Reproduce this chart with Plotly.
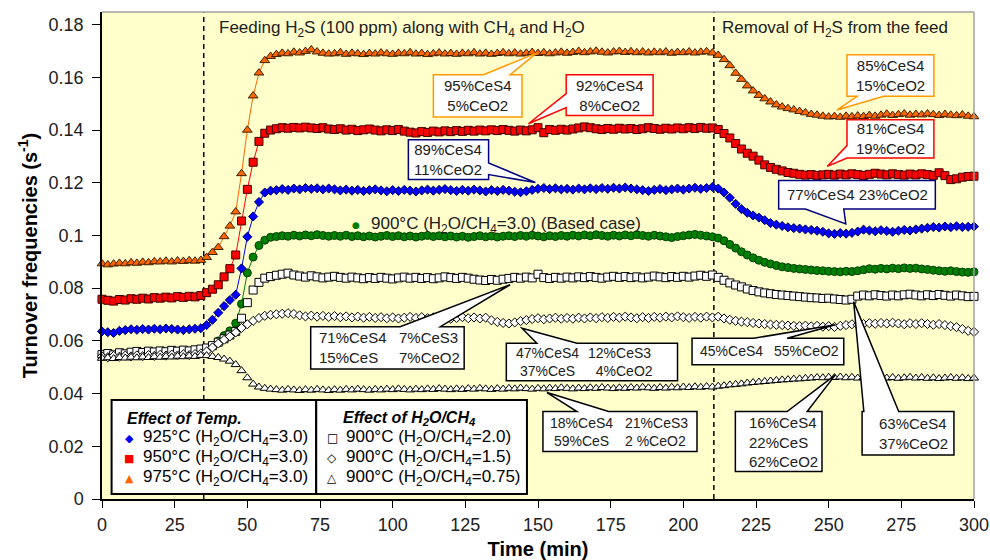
import plotly.graph_objects as go

# ---------------- data ----------------
TIME_MIN = list(range(0, 301, 2))

T975_H3 = [
    0.0893, 0.0889, 0.0892, 0.0895, 0.0893, 0.0897, 0.0895, 0.0899, 0.0897, 0.0901,
    0.0900, 0.0903, 0.0900, 0.0904, 0.0902, 0.0905, 0.0903, 0.0906, 0.0917, 0.0936,
    0.0955, 0.0996, 0.1036, 0.1090, 0.1235, 0.1400, 0.1530, 0.1617, 0.1664, 0.1680,
    0.1687, 0.1692, 0.1690, 0.1696, 0.1693, 0.1699, 0.1705, 0.1697, 0.1692, 0.1689,
    0.1690, 0.1694, 0.1688, 0.1692, 0.1690, 0.1687, 0.1691, 0.1689, 0.1693, 0.1690,
    0.1688, 0.1692, 0.1690, 0.1694, 0.1689, 0.1691, 0.1687, 0.1690, 0.1693, 0.1689,
    0.1691, 0.1688, 0.1692, 0.1690, 0.1694, 0.1689, 0.1692, 0.1688, 0.1691, 0.1694,
    0.1690, 0.1693, 0.1689, 0.1692, 0.1695, 0.1691, 0.1694, 0.1690, 0.1693, 0.1696,
    0.1692, 0.1695, 0.1699, 0.1694, 0.1697, 0.1700, 0.1696, 0.1693, 0.1697, 0.1699,
    0.1695, 0.1698, 0.1694, 0.1697, 0.1693, 0.1696, 0.1694, 0.1697, 0.1692, 0.1695,
    0.1694, 0.1697, 0.1693, 0.1696, 0.1698, 0.1693, 0.1684, 0.1668, 0.1645, 0.1616,
    0.1593, 0.1568, 0.1549, 0.1532, 0.1519, 0.1507, 0.1496, 0.1488, 0.1482, 0.1477,
    0.1471, 0.1466, 0.1460, 0.1457, 0.1453, 0.1450, 0.1452, 0.1449, 0.1453, 0.1451,
    0.1454, 0.1452, 0.1456, 0.1453, 0.1457, 0.1461, 0.1456, 0.1459, 0.1462, 0.1457,
    0.1460, 0.1458, 0.1462, 0.1459, 0.1456, 0.1460, 0.1457, 0.1455, 0.1458, 0.1453,
    0.1451,
]

T950_H3 = [
    0.0758, 0.0754, 0.0751, 0.0757, 0.0755, 0.0760, 0.0758, 0.0762, 0.0759, 0.0764,
    0.0762, 0.0766, 0.0763, 0.0768, 0.0765, 0.0769, 0.0767, 0.0772, 0.0783, 0.0796,
    0.0813, 0.0843, 0.0874, 0.0926, 0.1055, 0.1175, 0.1278, 0.1357, 0.1388, 0.1400,
    0.1405, 0.1409, 0.1407, 0.1410, 0.1408, 0.1411, 0.1408, 0.1406, 0.1409, 0.1404,
    0.1402, 0.1405, 0.1400, 0.1403, 0.1398, 0.1401, 0.1404, 0.1400, 0.1397, 0.1401,
    0.1398, 0.1402, 0.1396, 0.1392, 0.1389, 0.1394, 0.1391, 0.1396, 0.1393, 0.1397,
    0.1394, 0.1398, 0.1395, 0.1399, 0.1396, 0.1400, 0.1397, 0.1401, 0.1398, 0.1402,
    0.1399, 0.1396, 0.1400, 0.1397, 0.1401, 0.1409, 0.1390, 0.1402, 0.1399, 0.1403,
    0.1400, 0.1404, 0.1408, 0.1412, 0.1409, 0.1405, 0.1402, 0.1406, 0.1403, 0.1407,
    0.1404, 0.1406, 0.1402, 0.1405, 0.1409, 0.1406, 0.1403, 0.1407, 0.1404, 0.1408,
    0.1405, 0.1409, 0.1406, 0.1410, 0.1407, 0.1408, 0.1402, 0.1387, 0.1370, 0.1349,
    0.1328, 0.1312, 0.1301, 0.1286, 0.1268, 0.1258, 0.1251, 0.1245, 0.1239, 0.1236,
    0.1232, 0.1229, 0.1231, 0.1228, 0.1230, 0.1232, 0.1229, 0.1233, 0.1230, 0.1234,
    0.1231, 0.1228, 0.1232, 0.1236, 0.1233, 0.1230, 0.1234, 0.1231, 0.1229, 0.1233,
    0.1230, 0.1234, 0.1231, 0.1228, 0.1238, 0.1227, 0.1212, 0.1215, 0.1221, 0.1224,
    0.1225,
]

T925_H3 = [
    0.0636, 0.0633, 0.0630, 0.0638, 0.0641, 0.0644, 0.0642, 0.0645, 0.0643, 0.0646,
    0.0644, 0.0647, 0.0645, 0.0643, 0.0641, 0.0644, 0.0646, 0.0648, 0.0660, 0.0680,
    0.0707, 0.0732, 0.0755, 0.0775, 0.0875, 0.0995, 0.1072, 0.1127, 0.1163, 0.1170,
    0.1172, 0.1176, 0.1173, 0.1178, 0.1175, 0.1180, 0.1177, 0.1179, 0.1175, 0.1178,
    0.1175, 0.1171, 0.1174, 0.1170, 0.1173, 0.1169, 0.1172, 0.1175, 0.1171, 0.1168,
    0.1172, 0.1169, 0.1173, 0.1170, 0.1167, 0.1171, 0.1174, 0.1170, 0.1173, 0.1176,
    0.1172, 0.1169, 0.1173, 0.1170, 0.1174, 0.1171, 0.1167, 0.1172, 0.1169, 0.1173,
    0.1170, 0.1166, 0.1164, 0.1168, 0.1173, 0.1177, 0.1180, 0.1176, 0.1179, 0.1175,
    0.1177, 0.1174, 0.1178, 0.1175, 0.1179, 0.1176, 0.1180, 0.1177, 0.1181, 0.1178,
    0.1182, 0.1178, 0.1175, 0.1172, 0.1169, 0.1173, 0.1176, 0.1172, 0.1175, 0.1178,
    0.1174, 0.1178, 0.1181, 0.1177, 0.1180, 0.1184, 0.1178, 0.1163, 0.1143, 0.1120,
    0.1100, 0.1086, 0.1076, 0.1068, 0.1058, 0.1047, 0.1041, 0.1036, 0.1031, 0.1028,
    0.1026, 0.1023, 0.1021, 0.1018, 0.1014, 0.1008, 0.1006, 0.1009, 0.1007, 0.1010,
    0.1015, 0.1022, 0.1019, 0.1016, 0.1020, 0.1017, 0.1014, 0.1018, 0.1021, 0.1019,
    0.1023, 0.1026, 0.1029, 0.1032, 0.1030, 0.1034, 0.1031, 0.1035, 0.1032, 0.1033,
    0.1034,
]

T900_H3 = [
    None, None, None, None, None, None, None, None, None, None,
    None, None, None, None, None, None, None, None, None, None,
    0.0600, 0.0620, 0.0638, 0.0667, 0.0740, 0.0858, 0.0918, 0.0962, 0.0982, 0.0993,
    0.0996, 0.0999, 0.0997, 0.1001, 0.0998, 0.1002, 0.0999, 0.1003, 0.1000, 0.0997,
    0.1000, 0.0997, 0.1001, 0.0996, 0.0999, 0.0995, 0.0998, 0.0994, 0.0997, 0.1000,
    0.0996, 0.0999, 0.0995, 0.0998, 0.0994, 0.0997, 0.1000, 0.0996, 0.0999, 0.0995,
    0.0998, 0.0994, 0.0997, 0.0993, 0.0996, 0.0999, 0.0995, 0.0998, 0.0994, 0.0997,
    0.0999, 0.0996, 0.1000, 0.0997, 0.1001, 0.0998, 0.0995, 0.0999, 0.0996, 0.1000,
    0.0997, 0.1001, 0.0998, 0.1002, 0.0999, 0.1003, 0.1000, 0.0997, 0.1001, 0.0998,
    0.1002, 0.0999, 0.1003, 0.1000, 0.0997, 0.1001, 0.0998, 0.0995, 0.0992, 0.0996,
    0.0999, 0.1002, 0.1004, 0.1001, 0.0998, 0.0995, 0.0990, 0.0980, 0.0966, 0.0952,
    0.0938, 0.0926, 0.0915, 0.0906, 0.0898, 0.0892, 0.0886, 0.0881, 0.0878, 0.0875,
    0.0873, 0.0871, 0.0869, 0.0867, 0.0866, 0.0864, 0.0863, 0.0862, 0.0864, 0.0863,
    0.0866, 0.0870, 0.0874, 0.0872, 0.0875, 0.0873, 0.0876, 0.0874, 0.0877, 0.0875,
    0.0876, 0.0873, 0.0871, 0.0868, 0.0866, 0.0864, 0.0866, 0.0863, 0.0861, 0.0860,
    0.0862,
]

T900_H2 = [
    0.0548, 0.0552, 0.0547, 0.0555, 0.0551, 0.0557, 0.0560, 0.0556, 0.0561, 0.0558,
    0.0562, 0.0559, 0.0564, 0.0561, 0.0565, 0.0562, 0.0566, 0.0569, 0.0573, 0.0582,
    0.0595, 0.0608, 0.0622, 0.0636, 0.0686, 0.0745, 0.0793, 0.0822, 0.0838, 0.0844,
    0.0849, 0.0853, 0.0857, 0.0850, 0.0846, 0.0842, 0.0847, 0.0843, 0.0839, 0.0842,
    0.0845, 0.0841, 0.0838, 0.0842, 0.0839, 0.0836, 0.0840, 0.0837, 0.0841, 0.0838,
    0.0835, 0.0839, 0.0842, 0.0838, 0.0841, 0.0837, 0.0840, 0.0836, 0.0839, 0.0843,
    0.0840, 0.0837, 0.0841, 0.0838, 0.0834, 0.0831, 0.0829, 0.0833, 0.0830, 0.0834,
    0.0837, 0.0841, 0.0838, 0.0842, 0.0839, 0.0853, 0.0840, 0.0837, 0.0841, 0.0838,
    0.0842, 0.0839, 0.0843, 0.0840, 0.0844, 0.0841, 0.0838, 0.0842, 0.0845, 0.0841,
    0.0844, 0.0840, 0.0843, 0.0839, 0.0842, 0.0846, 0.0843, 0.0840, 0.0844, 0.0841,
    0.0845, 0.0842, 0.0846, 0.0849, 0.0845, 0.0850, 0.0841, 0.0830, 0.0820, 0.0812,
    0.0805, 0.0797, 0.0791, 0.0786, 0.0782, 0.0779, 0.0776, 0.0774, 0.0772, 0.0770,
    0.0768, 0.0766, 0.0764, 0.0763, 0.0761, 0.0762, 0.0759, 0.0757, 0.0755, 0.0758,
    0.0770, 0.0774, 0.0771, 0.0775, 0.0772, 0.0770, 0.0774, 0.0771, 0.0775, 0.0777,
    0.0774, 0.0771, 0.0775, 0.0772, 0.0776, 0.0773, 0.0770, 0.0774, 0.0771, 0.0768,
    0.0769,
]

T900_H15 = [
    0.0541, 0.0538, 0.0543, 0.0540, 0.0544, 0.0541, 0.0545, 0.0542, 0.0546, 0.0543,
    0.0547, 0.0544, 0.0548, 0.0545, 0.0549, 0.0546, 0.0550, 0.0552, 0.0560, 0.0575,
    0.0590, 0.0604, 0.0617, 0.0632, 0.0649, 0.0663, 0.0676, 0.0687, 0.0695, 0.0699,
    0.0701, 0.0703, 0.0705, 0.0702, 0.0697, 0.0693, 0.0696, 0.0692, 0.0695, 0.0691,
    0.0694, 0.0690, 0.0693, 0.0689, 0.0692, 0.0688, 0.0691, 0.0687, 0.0690, 0.0686,
    0.0689, 0.0685, 0.0688, 0.0691, 0.0687, 0.0690, 0.0686, 0.0689, 0.0685, 0.0688,
    0.0684, 0.0687, 0.0690, 0.0686, 0.0689, 0.0685, 0.0688, 0.0678, 0.0672, 0.0668,
    0.0666, 0.0670, 0.0675, 0.0679, 0.0683, 0.0686, 0.0682, 0.0685, 0.0688, 0.0684,
    0.0687, 0.0684, 0.0688, 0.0685, 0.0689, 0.0686, 0.0690, 0.0687, 0.0691, 0.0688,
    0.0692, 0.0689, 0.0686, 0.0690, 0.0687, 0.0691, 0.0688, 0.0692, 0.0689, 0.0693,
    0.0690, 0.0687, 0.0691, 0.0688, 0.0692, 0.0689, 0.0692, 0.0685, 0.0680, 0.0676,
    0.0673, 0.0671, 0.0668, 0.0666, 0.0664, 0.0662, 0.0661, 0.0660, 0.0658, 0.0657,
    0.0656, 0.0658, 0.0655, 0.0657, 0.0654, 0.0656, 0.0653, 0.0657, 0.0660, 0.0663,
    0.0661, 0.0664, 0.0667, 0.0665, 0.0668, 0.0666, 0.0669, 0.0666, 0.0663, 0.0667,
    0.0664, 0.0667, 0.0664, 0.0661, 0.0664, 0.0660, 0.0656, 0.0652, 0.0645, 0.0638,
    0.0634,
]

T900_H075 = [
    0.0534, 0.0536, 0.0533, 0.0537, 0.0535, 0.0538, 0.0536, 0.0539, 0.0537, 0.0540,
    0.0538, 0.0541, 0.0539, 0.0542, 0.0540, 0.0543, 0.0541, 0.0545, 0.0544, 0.0541,
    0.0537, 0.0531, 0.0523, 0.0510, 0.0487, 0.0460, 0.0436, 0.0425, 0.0420, 0.0417,
    0.0415, 0.0413, 0.0416, 0.0414, 0.0412, 0.0415, 0.0413, 0.0416, 0.0414, 0.0412,
    0.0415, 0.0413, 0.0416, 0.0414, 0.0417, 0.0415, 0.0413, 0.0416, 0.0414, 0.0417,
    0.0415, 0.0418, 0.0416, 0.0414, 0.0417, 0.0415, 0.0418, 0.0416, 0.0419, 0.0417,
    0.0415, 0.0418, 0.0416, 0.0419, 0.0417, 0.0420, 0.0418, 0.0416, 0.0419, 0.0417,
    0.0420, 0.0418, 0.0421, 0.0419, 0.0417, 0.0420, 0.0418, 0.0421, 0.0419, 0.0422,
    0.0420, 0.0418, 0.0421, 0.0419, 0.0422, 0.0420, 0.0423, 0.0421, 0.0419, 0.0422,
    0.0420, 0.0423, 0.0421, 0.0424, 0.0422, 0.0420, 0.0423, 0.0421, 0.0424, 0.0422,
    0.0425, 0.0423, 0.0426, 0.0424, 0.0427, 0.0425, 0.0428, 0.0430, 0.0433, 0.0435,
    0.0437, 0.0440, 0.0442, 0.0444, 0.0446, 0.0448, 0.0450, 0.0452, 0.0453, 0.0455,
    0.0456, 0.0458, 0.0459, 0.0461, 0.0460, 0.0462, 0.0461, 0.0463, 0.0460, 0.0462,
    0.0459, 0.0461, 0.0458, 0.0460, 0.0462, 0.0459, 0.0461, 0.0458, 0.0460, 0.0462,
    0.0459, 0.0461, 0.0458, 0.0460, 0.0457, 0.0459, 0.0461, 0.0458, 0.0460, 0.0457,
    0.0459,
]

X_TICKS = [0, 25, 50, 75, 100, 125, 150, 175, 200, 225, 250, 275, 300]
Y_TICKS = [0, 0.02, 0.04, 0.06, 0.08, 0.1, 0.12, 0.14, 0.16, 0.18]
Y_TICK_TEXT = ["0", "0.02", "0.04", "0.06", "0.08", "0.1", "0.12", "0.14", "0.16", "0.18"]
EVENT_TIMES = [35, 210.5]

FONT = "Liberation Sans, Arial, sans-serif"

fig = go.Figure()

def add_series(y, symbol, size, fill, edge, line_color=None):
    fig.add_trace(go.Scatter(
        x=TIME_MIN, y=y,
        mode="lines+markers" if line_color else "markers",
        line=dict(color=line_color or fill, width=1),
        marker=dict(symbol=symbol, size=size, color=fill,
                    line=dict(color=edge, width=1)),
        cliponaxis=False, showlegend=False, connectgaps=False,
    ))

add_series(T900_H3, "circle", 8, "#008000", "#004000", "#008000")
add_series(T900_H2, "square", 8, "#FFFFFF", "#000000")
add_series(T900_H15, "diamond", 7, "#FFFFFF", "#000000")
add_series(T900_H075, "triangle-up", 8, "#FFFFFF", "#000000")
add_series(T925_H3, "diamond", 7, "#0000FF", "#000060", "#0000FF")
add_series(T950_H3, "square", 8, "#FF0000", "#400000", "#FF0000")
add_series(T975_H3, "triangle-up", 8.5, "#FF6600", "#402000", "#FF6600")

shapes = []
annotations = []

# dashed event lines
for t in EVENT_TIMES:
    shapes.append(dict(type="line", xref="x", yref="y domain", x0=t, x1=t, y0=0, y1=1,
                       line=dict(color="black", width=1.5, dash="5px,4px"), layer="below"))

# grey top/right frame
shapes.append(dict(type="line", xref="paper", yref="paper", x0=0, x1=1, y0=1, y1=1,
                   line=dict(color="#A0A0A0", width=1.5)))
shapes.append(dict(type="line", xref="paper", yref="paper", x0=1, x1=1, y0=0, y1=1,
                   line=dict(color="#A0A0A0", width=1.5)))


def callout_path(x0, x1, y0, y1, edge, a, b, tip):
    tx, ty = tip
    if edge == "top":
        pts = [(x0, y1), (a, y1), (tx, ty), (b, y1), (x1, y1), (x1, y0), (x0, y0)]
    elif edge == "right":
        pts = [(x0, y1), (x1, y1), (x1, a), (tx, ty), (x1, b), (x1, y0), (x0, y0)]
    elif edge == "bottom":
        pts = [(x0, y1), (x1, y1), (x1, y0), (a, y0), (tx, ty), (b, y0), (x0, y0)]
    else:  # left
        pts = [(x0, y1), (x1, y1), (x1, y0), (x0, y0), (x0, a), (tx, ty), (x0, b)]
    return "M " + " L ".join(f"{x},{y}" for x, y in pts) + " Z"


CALLOUTS = [
    (114.0, 144.5, 0.1450, 0.1610, "top", 131.3, 140.4, (149.6, 0.1693), "#FF9900"),
    (159.7, 189.6, 0.1455, 0.1610, "left", 0.1485, 0.1538, (146.7, 0.1424), "#FF0000"),
    (105.4, 133.0, 0.1212, 0.1363, "right", 0.1275, 0.1231, (149.1, 0.1201), "#000080"),
    (256.3, 286.2, 0.1528, 0.1686, "bottom", 268.9, 259.8, (252.8, 0.1476), "#FF9900"),
    (256.3, 286.2, 0.1294, 0.1439, "left", 0.1294, 0.1341, (249.5, 0.1262), "#FF0000"),
    (232.8, 286.7, 0.1100, 0.1209, "bottom", 255.2, 242.0, (255.9, 0.1044), "#000080"),
    (71.8, 124.6, 0.0493, 0.0654, "top", 102.6, 116.4, (140.4, 0.0813), "#000000"),
    (139.1, 198.0, 0.0449, 0.0591, "top", 149.6, 163.4, (144.5, 0.0648), "#000000"),
    (203.0, 255.2, 0.0509, 0.0610, "top", 224.2, 235.7, (252.3, 0.0661), "#000000"),
    (151.7, 204.7, 0.0180, 0.0332, "top", 163.4, 174.3, (153.1, 0.0404), "#000000"),
    (217.9, 247.7, 0.0104, 0.0332, "top", 235.7, 242.6, (252.3, 0.0471), "#000000"),
    (261.5, 293.1, 0.0167, 0.0332, "top", 262.1, 274.1, (258.6, 0.0749), "#000000"),
]
for x0, x1, y0, y1, edge, a, b, tip, col in CALLOUTS:
    shapes.append(dict(type="path", xref="x", yref="y",
                       path=callout_path(x0, x1, y0, y1, edge, a, b, tip),
                       fillcolor="white", line=dict(color=col, width=1.5)))

CALL_TEXT = [
    (129.25, 0.1530, "95%CeS4<br>5%CeO2", "center", 15),
    (174.65, 0.1533, "92%CeS4<br>8%CeO2", "center", 15),
    (119.2, 0.1288, "89%CeS4<br>11%CeO2", "center", 15),
    (271.25, 0.1607, "85%CeS4<br>15%CeO2", "center", 15),
    (271.25, 0.1367, "81%CeS4<br>19%CeO2", "center", 15),
    (259.75, 0.1155, "77%CeS4 23%CeO2", "center", 15),
    (74.1, 0.0574, "71%CeS4<br>15%CeS", "left", 15),
    (101.4, 0.0574, "7%CeS3<br>7%CeO2", "left", 15),
    (141.6, 0.0520, "47%CeS4<br>\u00a037%CeS", "left", 14),
    (166.6, 0.0520, "12%CeS3<br>\u00a0\u00a04%CeO2", "left", 14),
    (205.2, 0.0560, "45%CeS4", "left", 14),
    (230.5, 0.0560, "55%CeO2", "left", 14),
    (164.9, 0.0256, "18%CeS4<br>59%CeS", "center", 14),
    (179.3, 0.0256, "21%CeS3<br>2 %CeO2", "left", 14),
    (221.9, 0.0218, "16%CeS4<br>22%CeS<br>62%CeO2", "left", 15),
    (266.7, 0.0250, "63%CeS4<br>37%CeO2", "left", 15),
]
for x, y, txt, anc, fs in CALL_TEXT:
    annotations.append(dict(x=x, y=y, xref="x", yref="y", text=txt, showarrow=False,
                            xanchor=anc, yanchor="middle", align=anc,
                            font=dict(family=FONT, size=fs, color="#202020")))

# section labels
annotations.append(dict(x=39.7, y=0.1784, xref="x", yref="y", xanchor="left", yanchor="middle",
                        showarrow=False,
                        text="Feeding H<sub>2</sub>S (100 ppm) along with CH<sub>4</sub> and H<sub>2</sub>O",
                        font=dict(family=FONT, size=17, color="#202020")))
annotations.append(dict(x=212.5, y=0.1784, xref="x", yref="y", xanchor="left", yanchor="middle",
                        showarrow=False, text="Removal of H<sub>2</sub>S from the feed",
                        font=dict(family=FONT, size=17, color="#202020")))

# base case label
annotations.append(dict(x=87.4, y=0.1041, xref="x", yref="y", xanchor="center", yanchor="middle",
                        showarrow=False, text="●", font=dict(family="DejaVu Sans", size=9, color="#008000")))
annotations.append(dict(x=92.0, y=0.1041, xref="x", yref="y", xanchor="left", yanchor="middle",
                        showarrow=False,
                        text="900°C (H<sub>2</sub>O/CH<sub>4</sub>=3.0) (Based case)",
                        font=dict(family=FONT, size=17, color="#202020")))

# legend boxes
for x0, x1 in [(3.3, 73.7), (73.7, 146.2)]:
    shapes.append(dict(type="rect", xref="x", yref="y", x0=x0, x1=x1, y0=0.0019, y1=0.0376,
                       fillcolor="white", line=dict(color="black", width=2)))

LEG_ROWS = [0.0231, 0.0155, 0.0079]
annotations.append(dict(x=7.9, y=0.0306, xref="x", yref="y", xanchor="left", yanchor="middle",
                        showarrow=False, text="<b><i>Effect of Temp.</i></b>",
                        font=dict(family=FONT, size=16, color="black")))
annotations.append(dict(x=82.2, y=0.0306, xref="x", yref="y", xanchor="left", yanchor="middle",
                        showarrow=False, text="<b><i>Effect of H<sub>2</sub>O/CH<sub>4</sub></i></b>",
                        font=dict(family=FONT, size=16, color="black")))
LEFT_ITEMS = [("◆", "#0000FF", "925°C (H<sub>2</sub>O/CH<sub>4</sub>=3.0)"),
              ("■", "#FF0000", "950°C (H<sub>2</sub>O/CH<sub>4</sub>=3.0)"),
              ("▲", "#FF6600", "975°C (H<sub>2</sub>O/CH<sub>4</sub>=3.0)")]
RIGHT_ITEMS = [("□", "#000000", "900°C (H<sub>2</sub>O/CH<sub>4</sub>=2.0)"),
               ("◇", "#000000", "900°C (H<sub>2</sub>O/CH<sub>4</sub>=1.5)"),
               ("△", "#000000", "900°C (H<sub>2</sub>O/CH<sub>4</sub>=0.75)")]
for (sym, col, txt), yy in zip(LEFT_ITEMS, LEG_ROWS):
    annotations.append(dict(x=9.4, y=yy, xref="x", yref="y", xanchor="center", yanchor="middle",
                            showarrow=False, text=sym, font=dict(family="DejaVu Sans", size=11, color=col)))
    annotations.append(dict(x=13.5, y=yy, xref="x", yref="y", xanchor="left", yanchor="middle",
                            showarrow=False, text=txt, font=dict(family=FONT, size=17, color="black")))
for (sym, col, txt), yy in zip(RIGHT_ITEMS, LEG_ROWS):
    annotations.append(dict(x=79.2, y=yy, xref="x", yref="y", xanchor="center", yanchor="middle",
                            showarrow=False, text=sym, font=dict(family="DejaVu Sans", size=12, color=col)))
    annotations.append(dict(x=83.1, y=yy, xref="x", yref="y", xanchor="left", yanchor="middle",
                            showarrow=False, text=txt, font=dict(family=FONT, size=17, color="black")))

fig.update_layout(
    width=990, height=560,
    margin=dict(l=102, r=16, t=12, b=61, autoexpand=False),
    paper_bgcolor="white",
    plot_bgcolor="#FFFFCC",
    showlegend=False,
    shapes=shapes,
    annotations=annotations,
    font=dict(family=FONT, color="black"),
    xaxis=dict(range=[0, 300], tickvals=X_TICKS, ticks="outside", ticklen=7, tickwidth=1,
               tickcolor="black", showline=True, linecolor="black", linewidth=1.5,
               showgrid=False, zeroline=False, tickfont=dict(size=18, color="#202020"),
               automargin=False, ticklabelstandoff=2,
               title=dict(text="<b>Time (min)</b>", font=dict(size=20, color="black"), standoff=8)),
    yaxis=dict(range=[0, 0.1848], tickvals=Y_TICKS, ticktext=Y_TICK_TEXT, ticks="outside",
               ticklen=8, tickwidth=1, tickcolor="black", showline=True, linecolor="black",
               linewidth=1.5, showgrid=False, zeroline=False,
               tickfont=dict(size=18, color="#202020"), automargin=False, ticklabelstandoff=5,
               title=dict(text="<b>Turnover frequencies (s<sup>-1</sup>)</b>",
                          font=dict(size=20, color="black"), standoff=6)),
)

fig.write_html("out.html", config={"displayModeBar": False},
               post_script="document.body.style.margin='0px';")
